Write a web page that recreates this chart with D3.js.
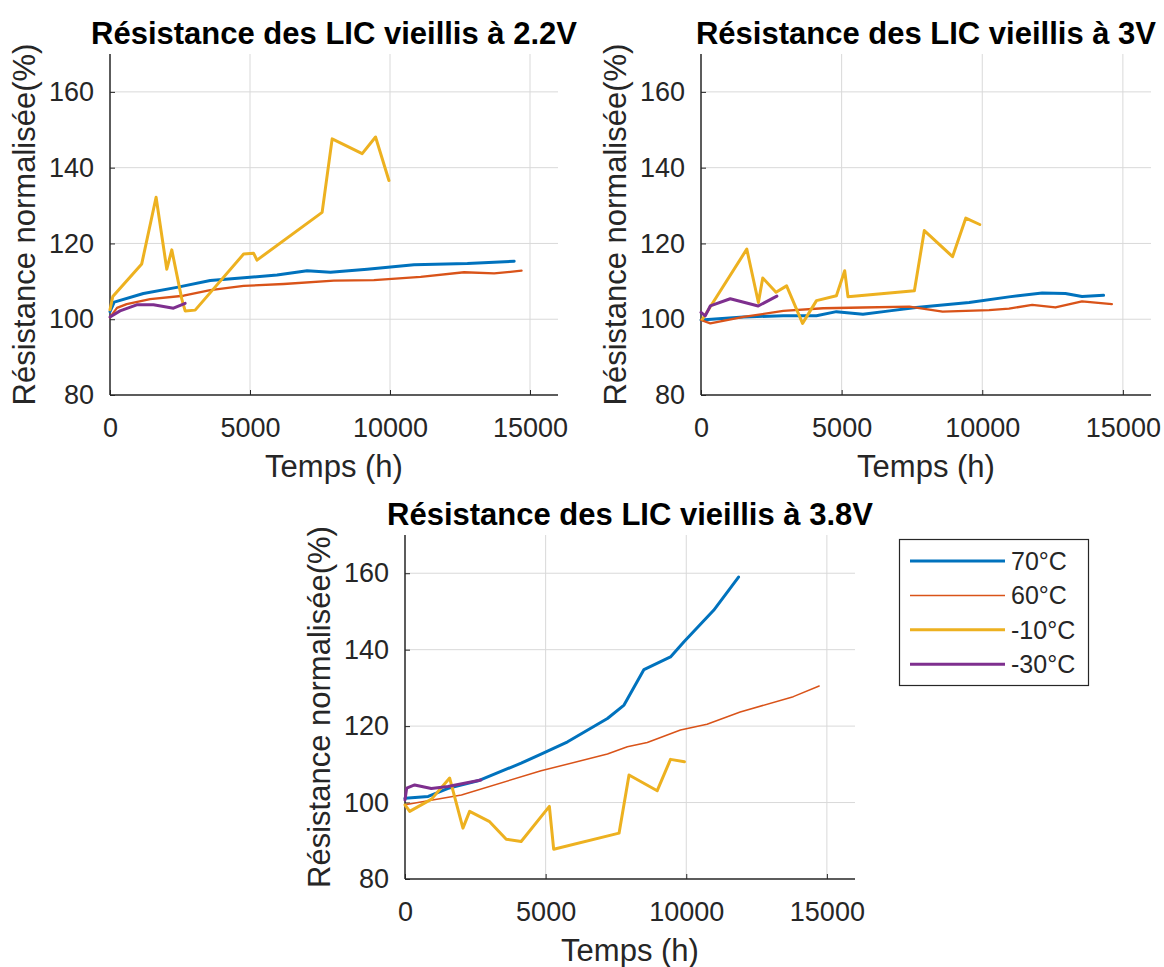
<!DOCTYPE html>
<html>
<head>
<meta charset="utf-8">
<script src="https://cdn.jsdelivr.net/npm/d3@7"></script>
<style>
  html, body { margin: 0; padding: 0; background: #fff; }
  svg { display: block; font-family: "Liberation Sans", Arial, sans-serif; }
</style>
</head>
<body>
<svg id="fig" width="1164" height="967"></svg>
<script>
// ---- data: normalised resistance (%) vs ageing time (h) ----
const series = ["70°C", "60°C", "-10°C", "-30°C"];
const seriesColors = ["#0072BD", "#D95319", "#EDB120", "#7E2F8E"];
const xTicks = [0, 5000, 10000, 15000];
const yTicks = [80, 100, 120, 140, 160];
const titles = ["Résistance des LIC vieillis à 2.2V", "Résistance des LIC vieillis à 3V", "Résistance des LIC vieillis à 3.8V"];

// 2.2 V
const v22_70 = [[0,102],[150,104.5],[1193,106.8],[2386,108.4],[3579,110.2],[4891,111.0],[5965,111.7],[7039,112.8],[7874,112.4],[9186,113.2],[10856,114.4],[12765,114.7],[14435,115.3]];
const v22_60 = [[0,100.5],[250,103],[597,104.0],[1432,105.3],[2625,106.2],[3579,107.7],[4772,108.8],[6204,109.3],[7994,110.2],[9425,110.3],[11095,111.2],[12646,112.4],[13720,112.1],[14698,112.8]];
const v22_m10 = [[0,102.5],[100,106],[1133,114.6],[1646,132.2],[2028,113.2],[2207,118.3],[2565,105.3],[2684,102.2],[3042,102.4],[4772,117.2],[5130,117.4],[5249,115.6],[7576,128.2],[7934,147.6],[9007,143.7],[9484,148.1],[9962,136.6]];
const v22_m30 = [[0,100.6],[358,102.2],[954,103.8],[1551,103.8],[2267,102.9],[2684,104.2]];

// 3 V
const v3_70 = [[0,99.8],[1510,100.6],[2926,100.9],[4106,100.9],[4814,102.0],[5758,101.3],[6702,102.2],[7646,103.1],[9534,104.4],[10950,105.9],[12130,106.9],[12956,106.8],[13546,106.0],[14313,106.3]];
const v3_60 = [[0,99.8],[330,98.9],[1510,100.6],[2926,102.2],[4342,102.9],[5758,103.1],[7410,103.3],[8590,102.0],[10242,102.4],[10950,102.8],[11776,103.8],[12602,103.1],[13546,104.7],[14608,104.0]];
const v3_m10 = [[50,100],[1628,118.5],[2041,104.4],[2195,110.9],[2667,107.1],[3044,108.8],[3611,98.9],[4106,104.9],[4814,106.2],[5109,112.8],[5227,105.9],[7587,107.5],[7941,123.4],[8944,116.5],[9416,126.7],[9912,125.0]];
const v3_m30 = [[0,101.8],[150,100.9],[330,103.5],[1040,105.4],[2034,103.5],[2698,106.1]];

// 3.8 V
const v38_70 = [[0,101.1],[826,101.6],[1534,103.7],[2596,105.7],[4130,110.3],[4838,112.7],[5782,115.9],[7198,122.0],[7788,125.5],[8496,134.8],[9440,138.1],[9912,142.0],[10974,150.3],[11859,159.0]];
const v38_60 = [[0,99.4],[2006,102.0],[4838,108.3],[7198,112.7],[7906,114.6],[8614,115.7],[9794,119.0],[10738,120.5],[11918,123.7],[13806,127.7],[14726,130.5]];
const v38_m10 = [[0,99.4],[167,97.7],[944,100.9],[1588,106.4],[2060,93.3],[2298,97.7],[3009,95.0],[3599,90.4],[4130,89.8],[5133,99.0],[5286,87.8],[7611,92.0],[7965,107.2],[8968,103.1],[9440,111.3],[9936,110.7]];
const v38_m30 = [[0,100.7],[60,103.8],[344,104.6],[935,103.7],[1527,104.2],[2700,105.9]];

const panelData = [
  [v22_70, v22_60, v22_m10, v22_m30],
  [v3_70, v3_60, v3_m10, v3_m30],
  [v38_70, v38_60, v38_m10, v38_m30]
];

// ---- layout ----
const panels = [
  { left: 110, right: 558, top: 54, bottom: 395, redWidth: 2.3 },
  { left: 701, right: 1151, top: 54, bottom: 395, redWidth: 2.3 },
  { left: 405, right: 855, top: 535, bottom: 879, redWidth: 1.5 }
];

const svg = d3.select("#fig");
const axisColor = "#262626";

panels.forEach((p, i) => {
  const x = d3.scaleLinear().domain([0, 16000]).range([p.left, p.right]);
  const y = d3.scaleLinear().domain([80, 170]).range([p.bottom, p.top]);
  const g = svg.append("g");

  // grid
  g.append("g").selectAll("line.gx").data(xTicks.filter(d => d > 0)).join("line")
    .attr("x1", d => x(d)).attr("x2", d => x(d))
    .attr("y1", p.top).attr("y2", p.bottom)
    .attr("stroke", "#d9d9d9").attr("stroke-width", 1);
  g.append("g").selectAll("line.gy").data(yTicks.filter(d => d > 80)).join("line")
    .attr("x1", p.left).attr("x2", p.right)
    .attr("y1", d => y(d)).attr("y2", d => y(d))
    .attr("stroke", "#d9d9d9").attr("stroke-width", 1);

  // axes (ticks pointing inward)
  const xAxis = d3.axisBottom(x).tickValues(xTicks).tickSize(-5).tickPadding(23).tickFormat(d3.format("d"));
  const yAxis = d3.axisLeft(y).tickValues(yTicks).tickSize(-5).tickPadding(16).tickFormat(d3.format("d"));
  const gx = g.append("g").attr("transform", `translate(0,${p.bottom})`).call(xAxis);
  const gy = g.append("g").attr("transform", `translate(${p.left},0)`).call(yAxis);
  [gx, gy].forEach(a => {
    a.select(".domain").attr("stroke", axisColor).attr("stroke-width", 1.5)
      .attr("d", a === gx ? `M${p.left},0H${p.right}` : `M0,${p.bottom}V${p.top}`);
    a.selectAll(".tick line").attr("stroke", axisColor);
    a.selectAll(".tick text").attr("fill", axisColor).style("font-size", "27px");
  });

  // series lines
  const line = d3.line().x(d => x(d[0])).y(d => y(d[1]));
  panelData[i].forEach((data, k) => {
    g.append("path").datum(data)
      .attr("d", line)
      .attr("fill", "none")
      .attr("stroke", seriesColors[k])
      .attr("stroke-width", k === 1 ? p.redWidth : 3)
      .attr("stroke-linejoin", "round")
      .attr("stroke-linecap", "round");
  });

  // labels
  const cx = (p.left + p.right) / 2, cy = (p.top + p.bottom) / 2;
  svg.append("text").text(titles[i])
    .attr("x", cx).attr("y", p.top - 10)
    .attr("text-anchor", "middle")
    .style("font-size", "31px").style("font-weight", "bold").attr("fill", "#000");
  svg.append("text").text("Temps (h)")
    .attr("x", cx).attr("y", p.bottom + 82)
    .attr("text-anchor", "middle")
    .style("font-size", "31px").attr("fill", axisColor);
  svg.append("text").text("Résistance normalisée(%)")
    .attr("transform", `translate(${p.left - 75},${cy}) rotate(-90)`)
    .attr("text-anchor", "middle")
    .style("font-size", "31px").attr("fill", axisColor);
});

// ---- legend ----
const leg = svg.append("g");
leg.append("rect")
  .attr("x", 899.5).attr("y", 539.5).attr("width", 189).attr("height", 146)
  .attr("fill", "#fff").attr("stroke", axisColor).attr("stroke-width", 1.2);
series.forEach((name, k) => {
  const yy = 561 + k * 34.4;
  leg.append("line")
    .attr("x1", 910).attr("x2", 1005).attr("y1", yy).attr("y2", yy)
    .attr("stroke", seriesColors[k]).attr("stroke-width", k === 1 ? 1.5 : 3);
  leg.append("text").text(name)
    .attr("x", 1011).attr("y", yy).attr("dy", "0.36em")
    .style("font-size", "25px").attr("fill", axisColor);
});
</script>
</body>
</html>
